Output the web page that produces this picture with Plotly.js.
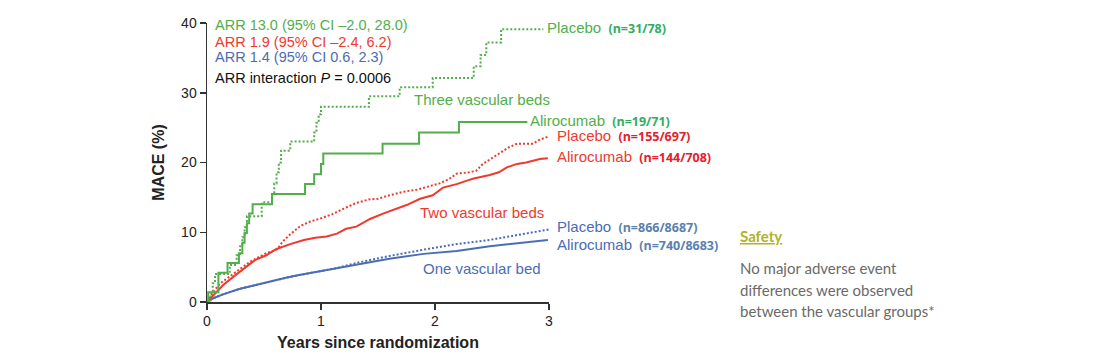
<!DOCTYPE html>
<html><head><meta charset="utf-8">
<script src="https://cdn.plot.ly/plotly-3.0.1.min.js"></script>
<style>html,body{margin:0;padding:0;background:#fff;} #chart{width:1100px;height:360px;}</style>
</head><body><div id="chart"></div>
<script>
// ---- Data (years since randomization, MACE %) ----
const threeAlirX = [0, 0.01, 0.10, 0.18, 0.28, 0.31, 0.33, 0.35, 0.37, 0.40, 0.57, 0.86, 0.94, 1.00, 1.02, 1.54, 1.86, 2.21, 2.81];
const threeAlirY = [0, 1.4, 4.2, 5.6, 7.0, 8.5, 9.9, 11.3, 12.7, 14.0, 15.5, 16.9, 18.3, 19.8, 21.3, 22.7, 24.3, 25.8, 25.8];

const threePlacX = [0, 0.03, 0.05, 0.07, 0.20, 0.26, 0.29, 0.31, 0.33, 0.35, 0.48, 0.57, 0.59, 0.61, 0.63, 0.65, 0.73, 0.94, 0.96, 0.98, 1.00, 1.42, 1.69, 1.98, 2.34, 2.40, 2.45, 2.58, 2.95];
const threePlacY = [0, 1.3, 2.7, 4.0, 5.3, 6.7, 8.0, 9.3, 10.7, 12.3, 14.3, 15.4, 17.0, 18.6, 20.0, 21.7, 23.0, 24.3, 25.7, 26.9, 28.0, 29.5, 30.8, 32.1, 33.8, 35.4, 37.2, 39.1, 39.1];

const twoAlirX = [0, 0.05, 0.14, 0.23, 0.32, 0.42, 0.52, 0.61, 0.73, 0.85, 0.95, 1.05, 1.14, 1.22, 1.31, 1.43, 1.55, 1.66, 1.75, 1.87, 1.98, 2.07, 2.19, 2.28, 2.34, 2.48, 2.56, 2.63, 2.72, 2.80, 2.86, 2.92, 2.99];
const twoAlirY = [0, 0.9, 2.4, 3.6, 4.8, 6.0, 6.7, 7.6, 8.3, 8.9, 9.2, 9.4, 9.8, 10.5, 10.8, 11.9, 12.7, 13.3, 13.9, 14.8, 15.3, 16.4, 16.9, 17.4, 17.7, 18.2, 18.6, 19.3, 19.8, 20.0, 20.3, 20.5, 20.6];

const twoPlacX = [0, 0.05, 0.11, 0.23, 0.38, 0.52, 0.62, 0.66, 0.73, 0.82, 0.90, 1.00, 1.10, 1.20, 1.31, 1.42, 1.50, 1.60, 1.72, 1.84, 1.95, 2.04, 2.12, 2.19, 2.30, 2.36, 2.42, 2.50, 2.57, 2.65, 2.72, 2.80, 2.86, 2.91, 2.99];
const twoPlacY = [0, 1.3, 2.6, 4.0, 5.8, 7.0, 7.6, 8.6, 9.7, 10.9, 11.5, 12.0, 12.6, 13.4, 14.2, 14.7, 14.8, 15.3, 15.8, 16.1, 16.6, 17.0, 17.6, 18.4, 18.6, 18.8, 19.8, 20.6, 21.3, 22.2, 22.7, 22.7, 22.7, 23.2, 23.7];

const oneAlirX = [0, 0.05, 0.14, 0.29, 0.42, 0.55, 0.70, 0.82, 1.02, 1.31, 1.60, 1.90, 2.19, 2.48, 2.77, 2.99];
const oneAlirY = [0, 0.5, 1.1, 1.9, 2.4, 2.95, 3.5, 3.9, 4.5, 5.4, 6.2, 6.9, 7.3, 8.0, 8.5, 8.9];

const onePlacX = [0, 0.05, 0.14, 0.29, 0.42, 0.55, 0.70, 0.82, 1.02, 1.12, 1.31, 1.60, 1.90, 2.19, 2.48, 2.77, 3.00];
const onePlacY = [0, 0.5, 1.1, 1.9, 2.4, 2.95, 3.5, 3.9, 4.5, 4.8, 5.6, 6.6, 7.5, 8.3, 8.9, 9.7, 10.4];

const xTicks = [0, 1, 2, 3];
const yTicks = [0, 10, 20, 30, 40];

const arrLines = ['ARR 13.0 (95% CI \u20132.0, 28.0)', 'ARR 1.9 (95% CI \u20132.4, 6.2)', 'ARR 1.4 (95% CI 0.6, 2.3)', 'ARR interaction <i>P</i> = 0.0006'];
const groupNames = ['Three vascular beds', 'Two vascular beds', 'One vascular bed'];
const armLabels = [['Placebo', '(n=31/78)'], ['Alirocumab', '(n=19/71)'], ['Placebo', '(n=155/697)'], ['Alirocumab', '(n=144/708)'], ['Placebo', '(n=866/8687)'], ['Alirocumab', '(n=740/8683)']];
const safetyTitle = 'Safety';
const safetyLines = ['No major adverse event', 'differences were observed', 'between the vascular groups*'];

// ---- Styling ----
const GREEN = '#52ae4b', RED = '#ee3a2e', BLUE = '#4a6db5';
const GREEN_N = '#2fae62', RED_N = '#e3202c', BLUE_N = '#5a7fae';
const L = 207, R = 549, T = 23, B = 302;
const pxX = p => (p - L) / (R - L);
const pxY = p => (B - p) / (B - T);
const ARIAL = 'Liberation Sans, Arial, sans-serif';

function tr(x, y, color, dotted, shape) {
  return {x: x, y: y, type: 'scatter', mode: 'lines', hoverinfo: 'skip', cliponaxis: false,
    line: {color: color, width: 2, shape: shape, dash: dotted ? '2px,2px' : 'solid'}};
}
const data = [
  tr(oneAlirX, oneAlirY, BLUE, false, 'linear'),
  tr(onePlacX, onePlacY, BLUE, true, 'linear'),
  tr(twoAlirX, twoAlirY, RED, false, 'linear'),
  tr(twoPlacX, twoPlacY, RED, true, 'linear'),
  tr(threeAlirX, threeAlirY, GREEN, false, 'hv'),
  tr(threePlacX, threePlacY, GREEN, true, 'hv')
];

function ann(xp, yp, text, size, color, family, anchor) {
  return {xref: 'paper', yref: 'paper', x: pxX(xp), y: pxY(yp), text: text, showarrow: false,
    xanchor: anchor || 'left', yanchor: 'middle', align: 'left',
    font: {size: size, color: color, family: family || ARIAL}};
}
const annotations = [];
const arrColors = [GREEN, RED, BLUE, '#111'];
const arrY = [25, 42, 57, 78];
arrLines.forEach((t, i) => annotations.push(ann(213, arrY[i], t, 14.5, arrColors[i])));
const gPos = [[412, 99, GREEN], [418, 212, RED], [421, 268, BLUE]];
groupNames.forEach((t, i) => annotations.push(ann(gPos[i][0], gPos[i][1], t, 15, gPos[i][2])));
const aPos = [[545, 28, GREEN, GREEN_N], [528, 121, GREEN, GREEN_N], [555, 136, RED, RED_N], [555, 157, RED, RED_N], [555, 227, BLUE, BLUE_N], [555, 245, BLUE, BLUE_N]];
armLabels.forEach((a, i) => annotations.push(ann(aPos[i][0], aPos[i][1],
  a[0] + ' \u2009<span style="font-family:Open Sans, sans-serif;font-size:12.5px;color:' + aPos[i][3] + '"><b>' + a[1] + '</b></span>',
  15, aPos[i][2])));
annotations.push(ann(738, 236, '<b><u>' + safetyTitle + '</u></b>', 15, '#b0b22a', 'Lato, sans-serif'));
const sY = [268, 290, 311];
safetyLines.forEach((t, i) => annotations.push(ann(738, sY[i], t, 15, '#6a6a6a', 'Lato, sans-serif')));

const layout = {
  width: 1100, height: 360,
  margin: {l: L, r: 1100 - R, t: T, b: 360 - B},
  paper_bgcolor: '#fff', plot_bgcolor: '#fff',
  showlegend: false,
  xaxis: {range: [0, 3], tickvals: xTicks, ticktext: xTicks.map(String), showgrid: false, zeroline: false,
    showline: true, linecolor: '#333', linewidth: 1.5, ticks: 'outside', ticklen: 6, tickwidth: 1.5, tickcolor: '#333',
    tickfont: {size: 14, family: ARIAL, color: '#222'},
    title: {text: '<b>Years since randomization</b>', font: {size: 16, family: ARIAL, color: '#222'}, standoff: 8}},
  yaxis: {range: [0, 40], tickvals: yTicks, ticktext: yTicks.map(String), showgrid: false, zeroline: false,
    showline: true, linecolor: '#333', linewidth: 1.5, ticks: 'outside', ticklen: 6, tickwidth: 1.5, tickcolor: '#333',
    tickfont: {size: 14, family: ARIAL, color: '#222'},
    title: {text: '<b>MACE (%)</b>', font: {size: 16, family: ARIAL, color: '#222'}, standoff: 12}},
  annotations: annotations
};
Plotly.newPlot('chart', data, layout, {staticPlot: true, displayModeBar: false});
</script>
</body></html>
